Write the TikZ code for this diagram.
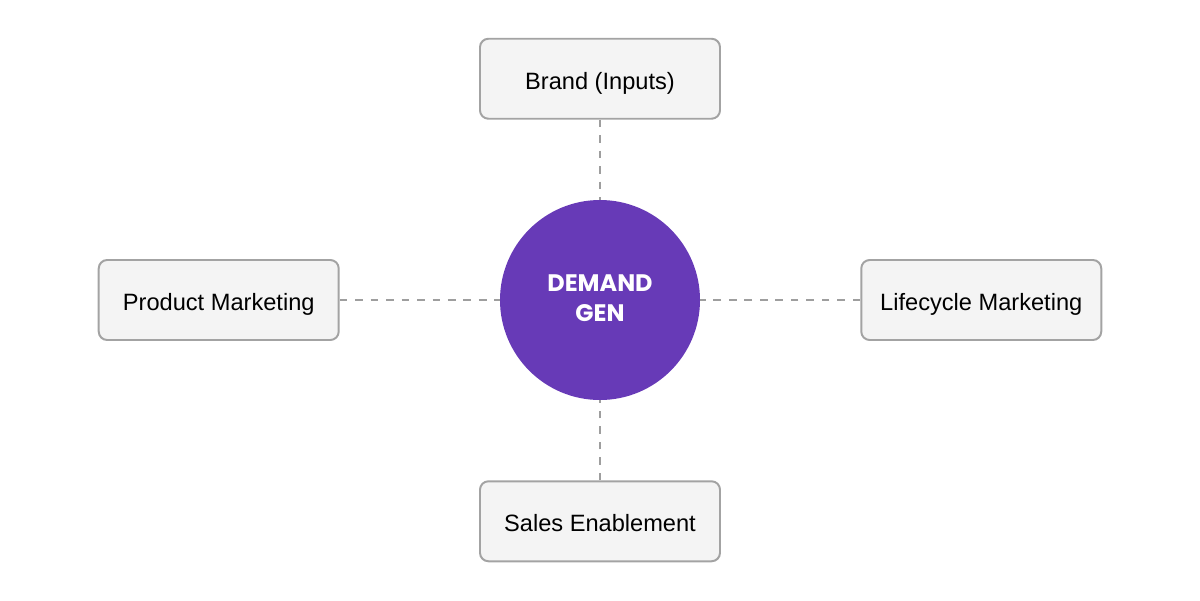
\documentclass[tikz,border=0pt]{standalone}
\usepackage{fontspec}
\setmainfont{Liberation Sans}
\newfontfamily\hubfont{Poppins}
\usetikzlibrary{positioning}

\definecolor{hubpurple}{HTML}{673AB7}
\definecolor{boxfill}{HTML}{F4F4F4}
\definecolor{boxline}{HTML}{A3A3A3}
\definecolor{dashgray}{HTML}{9E9E9E}

\begin{document}
\begin{tikzpicture}[
	hub/.style={circle, fill=hubpurple, minimum size=5cm, inner sep=0pt, align=center, text=white, text depth=3pt, font=\hubfont\bfseries\fontsize{17}{21}\selectfont},
	topic/.style={draw=boxline, line width=1.4pt, fill=boxfill, rounded corners=6pt, minimum width=6cm, minimum height=2cm, text height=15pt, text depth=0pt, font=\fontsize{16.8}{20}\selectfont},
	link/.style={draw=dashgray, line width=1.3pt, dash pattern=on 5.5pt off 5.5pt}
]
	\useasboundingbox (-15,-7.5) rectangle (15,7.5);
	\node [hub] (demand) {DEMAND \\ GEN};
	\node [topic, above=2cm of demand] (brand) {Brand (Inputs)};
	\node [topic, left=4cm of demand] (product) {Product Marketing};
	\node [topic, right=4cm of demand] (lifecycle) {Lifecycle Marketing};
	\node [topic, below=2cm of demand] (sales) {Sales Enablement};
	% dashed links
	\draw [link] (brand) -- (demand);
	\draw [link] (product) -- (demand);
	\draw [link] (lifecycle) -- (demand);
	\draw [link] (sales) -- (demand);
\end{tikzpicture}
\end{document}
